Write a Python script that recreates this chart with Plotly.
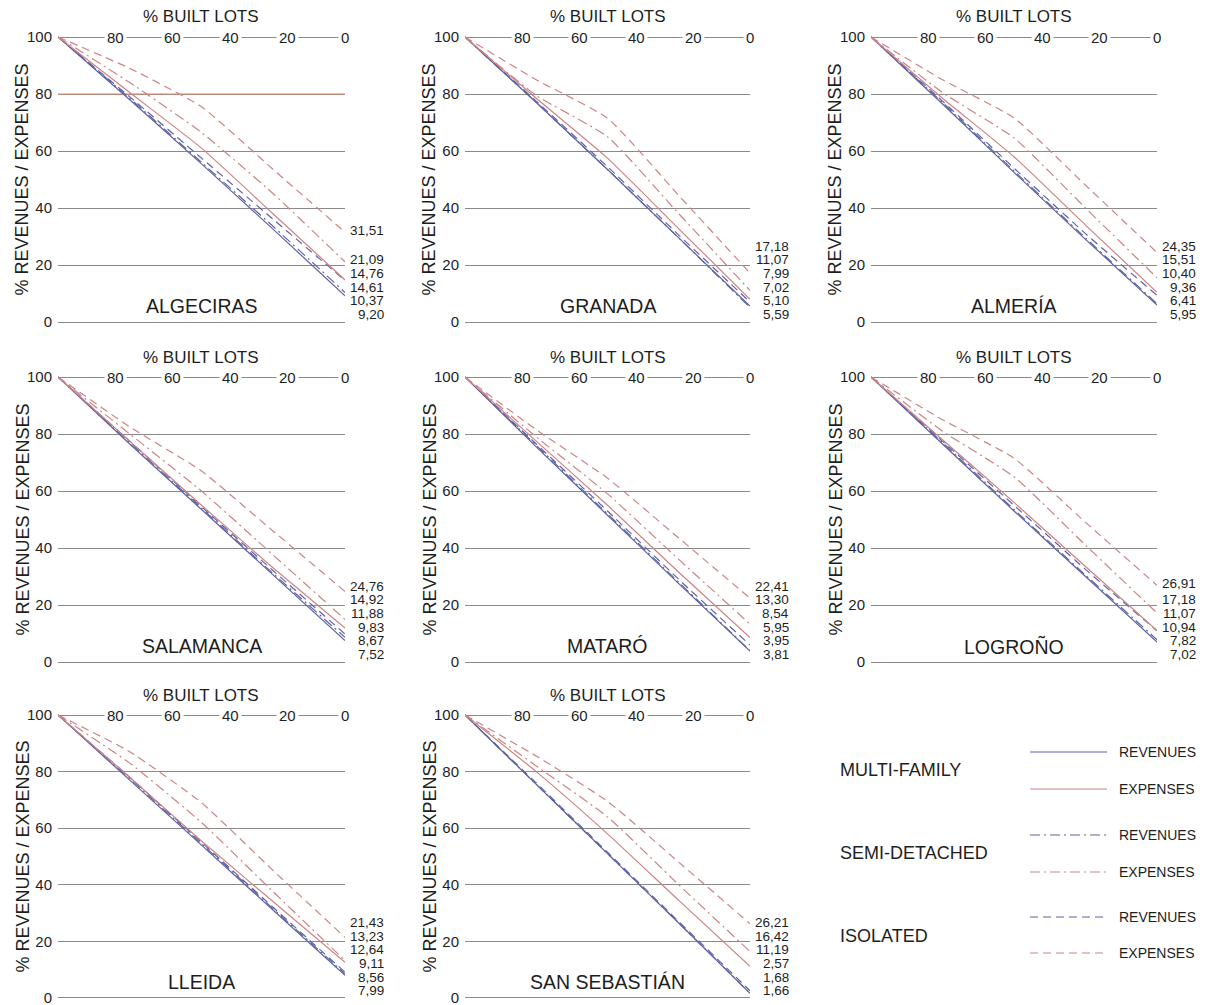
import plotly.graph_objects as go

# ---------------- data ----------------
BUILT = [100, 75, 50, 25, 0]          # % built lots (x positions of read points)
Y_TICKS = [0, 20, 40, 60, 80, 100]
X_TICK_LABELS = [80, 60, 40, 20, 0]
CITIES = ["ALGECIRAS", "GRANADA", "ALMERÍA", "SALAMANCA", "MATARÓ",
          "LOGROÑO", "LLEIDA", "SAN SEBASTIÁN"]

ISO_EXP = [
    [100, 89.0, 75.5, 53.5, 31.51],
    [100, 85.0, 71.5, 44.4, 17.18],
    [100, 85.0, 71.6, 48.0, 24.35],
    [100, 82.5, 67.0, 45.9, 24.76],
    [100, 81.5, 64.5, 43.5, 22.41],
    [100, 85.0, 71.5, 49.0, 26.91],
    [100, 87.0, 69.0, 45.0, 21.43],
    [100, 85.5, 69.5, 48.0, 26.21],
]
SEMI_EXP = [
    [100, 84.0, 66.5, 45.0, 21.09],
    [100, 79.5, 65.0, 38.0, 11.07],
    [100, 80.5, 64.6, 40.0, 15.51],
    [100, 80.0, 60.0, 37.5, 14.92],
    [100, 79.0, 59.0, 36.0, 13.30],
    [100, 81.0, 65.0, 41.0, 17.18],
    [100, 83.0, 62.0, 37.5, 13.23],
    [100, 82.0, 64.0, 40.0, 16.42],
]
MULTI_EXP = [
    [100, 80.5, 61.0, 37.9, 14.76],
    [100, 78.5, 57.5, 32.7, 7.99],
    [100, 78.5, 58.0, 34.0, 10.40],
    [100, 77.5, 55.0, 33.0, 11.88],
    [100, 77.5, 55.0, 31.5, 8.54],
    [100, 78.0, 56.0, 33.5, 11.07],
    [100, 78.0, 55.5, 34.0, 12.64],
    [100, 80.0, 58.0, 34.5, 11.19],
]
ISO_REV = [
    [100, 79.0, 57.5, 36.0, 14.61],
    [100, 77.5, 54.5, 30.5, 7.02],
    [100, 77.5, 54.0, 31.0, 9.36],
    [100, 77.5, 54.5, 32.0, 9.83],
    [100, 76.5, 53.0, 29.0, 5.95],
    [100, 77.5, 55.0, 32.5, 10.94],
    [100, 78.0, 55.0, 32.0, 9.11],
    [100, 76.0, 51.5, 27.0, 2.57],
]
SEMI_REV = [
    [100, 78.5, 56.0, 33.5, 10.37],
    [100, 77.0, 53.5, 29.5, 5.10],
    [100, 77.0, 53.0, 29.5, 6.41],
    [100, 77.0, 54.0, 31.0, 8.67],
    [100, 76.0, 52.0, 28.0, 3.95],
    [100, 77.0, 53.5, 30.5, 7.82],
    [100, 77.5, 54.5, 31.5, 8.56],
    [100, 75.5, 51.0, 26.5, 1.68],
]
MULTI_REV = [
    [100, 78.0, 55.5, 32.5, 9.20],
    [100, 77.0, 53.5, 29.5, 5.59],
    [100, 76.5, 52.5, 29.0, 5.95],
    [100, 76.5, 53.5, 30.5, 7.52],
    [100, 75.5, 51.5, 27.5, 3.81],
    [100, 76.5, 53.0, 30.0, 7.02],
    [100, 77.0, 54.0, 31.0, 7.99],
    [100, 75.5, 51.0, 26.5, 1.66],
]

GROUPS = ["MULTI-FAMILY", "SEMI-DETACHED", "ISOLATED"]
KINDS = ["REVENUES", "EXPENSES"]

# ---------------- styles ----------------
W, H = 1206, 1005
COL_PX = [(58, 345), (465, 750), (871, 1157)]
ROW_PX = [(37, 322), (377, 662), (715, 998)]
YPAD = 0.5  # data units of padding so the 0 and 100 grid lines are drawn
FONT = "Liberation Sans, Arial, sans-serif"
TXT = "#1e1e1e"
GRID = "#8a8a8a"
REV_C = "#5f63a3"
EXP_C = "#cf8383"
DASH = {"MULTI-FAMILY": "solid", "SEMI-DETACHED": "10px,4px,2px,4px", "ISOLATED": "8px,5px"}

# series in display order of the end labels (top to bottom)
SERIES = [
    ("ISOLATED", "EXPENSES", ISO_EXP),
    ("SEMI-DETACHED", "EXPENSES", SEMI_EXP),
    ("MULTI-FAMILY", "EXPENSES", MULTI_EXP),
    ("ISOLATED", "REVENUES", ISO_REV),
    ("SEMI-DETACHED", "REVENUES", SEMI_REV),
    ("MULTI-FAMILY", "REVENUES", MULTI_REV),
]

fig = go.Figure()
annotations = []
shapes = []

for i, city in enumerate(CITIES):
    r, c = divmod(i, 3)
    sfx = "" if i == 0 else str(i + 1)
    xa, ya = "x" + sfx, "y" + sfx
    x0, x1 = COL_PX[c]
    y0, y1 = ROW_PX[r]
    ppu = (y1 - y0) / 100.0
    fig.layout["xaxis" + sfx] = dict(
        domain=[x0 / W, x1 / W], range=[100, 0], anchor=ya, automargin=False,
        showgrid=False, zeroline=False, showticklabels=False,
        showline=False, ticks="", fixedrange=True)
    fig.layout["yaxis" + sfx] = dict(
        domain=[1 - (y1 + YPAD * ppu) / H, 1 - (y0 - YPAD * ppu) / H],
        range=[-YPAD, 100 + YPAD], anchor=xa, automargin=False,
        tickvals=Y_TICKS, showgrid=True, gridcolor=GRID, gridwidth=1,
        zeroline=False, showline=False, ticks="", ticklabelstandoff=5,
        ticklabeloverflow="allow",
        tickfont=dict(size=15, color=TXT, family=FONT), fixedrange=True)

    # draw revenues first, then expenses
    for grp, kind, arr in SERIES[::-1]:
        fig.add_trace(go.Scatter(
            x=BUILT, y=arr[i], mode="lines", xaxis=xa, yaxis=ya,
            line=dict(color=REV_C if kind == "REVENUES" else EXP_C,
                      width=1.2, dash=DASH[grp], shape="spline", smoothing=0.5),
            showlegend=False, hoverinfo="skip"))

    # top tick labels sitting on the 100 line
    for t in X_TICK_LABELS:
        annotations.append(dict(
            x=t, y=100, xref=xa, yref=ya, text=str(t), showarrow=False,
            bgcolor="white", borderpad=2,
            font=dict(size=15, color=TXT, family=FONT)))
    # x title
    annotations.append(dict(
        x=0.5, y=1 - (y0 - 20) / H, xref=xa + " domain", yref="paper",
        text="% BUILT LOTS", showarrow=False, yanchor="middle",
        font=dict(size=17, color=TXT, family=FONT)))
    # y title
    annotations.append(dict(
        x=(x0 - 36) / W, y=1 - (y0 + y1) / 2 / H, xref="paper", yref="paper",
        text="% REVENUES / EXPENSES", textangle=-90, showarrow=False,
        xanchor="center", yanchor="middle",
        font=dict(size=18, color=TXT, family=FONT)))
    # city name
    annotations.append(dict(
        x=50, y=5.6, xref=xa, yref=ya, text=city, showarrow=False,
        font=dict(size=19.5, color=TXT, family=FONT)))
    # end value labels stacked at the right
    n = len(SERIES)
    prev = None
    for kb in range(n):
        grp, kind, arr = SERIES[n - 1 - kb]
        v = arr[i][-1]
        pos = 2.6 if prev is None else prev + 4.8
        if kb >= 3:
            pos = max(pos, v + 0.5)
        prev = pos
        annotations.append(dict(
            x=1 + 41 / (x1 - x0), y=pos, xref=xa + " domain", yref=ya,
            text=f"{v:.2f}".replace(".", ","), showarrow=False,
            xanchor="right", yanchor="middle",
            font=dict(size=13.5, color=TXT, family=FONT)))

# Algeciras 80 line appears in red in the original
shapes.append(dict(type="line", xref="x", yref="y", x0=100, x1=0, y0=80, y1=80,
                   line=dict(color="#e3866f", width=1), layer="between"))

# ---------------- legend (bottom-right cell) ----------------
GROUP_Y = [770, 853, 936]
ROW_Y = [(752, 789), (835, 872), (917, 953)]
for g, grp in enumerate(GROUPS):
    annotations.append(dict(
        x=838 / W, y=1 - GROUP_Y[g] / H, xref="paper", yref="paper",
        text=grp, showarrow=False, xanchor="left", yanchor="middle",
        font=dict(size=18, color=TXT, family=FONT)))
    for k, kind in enumerate(KINDS):
        yy = 1 - ROW_Y[g][k] / H
        shapes.append(dict(
            type="line", xref="paper", yref="paper",
            x0=1030 / W, x1=1107 / W, y0=yy, y1=yy,
            line=dict(color=REV_C if kind == "REVENUES" else EXP_C,
                      width=1.2, dash=DASH[grp])))
        annotations.append(dict(
            x=1117 / W, y=yy, xref="paper", yref="paper", text=kind,
            showarrow=False, xanchor="left", yanchor="middle",
            font=dict(size=14, color=TXT, family=FONT)))

fig.update_layout(
    template="none",
    width=W, height=H, autosize=False,
    margin=dict(l=0, r=0, t=0, b=0, pad=0),
    paper_bgcolor="white", plot_bgcolor="white",
    font=dict(family=FONT, color=TXT),
    annotations=annotations, shapes=shapes, showlegend=False)

fig.write_html("out.html",
               config={"displayModeBar": False},
               post_script="document.body.style.margin='0';"
                           "document.body.style.overflow='hidden';")
